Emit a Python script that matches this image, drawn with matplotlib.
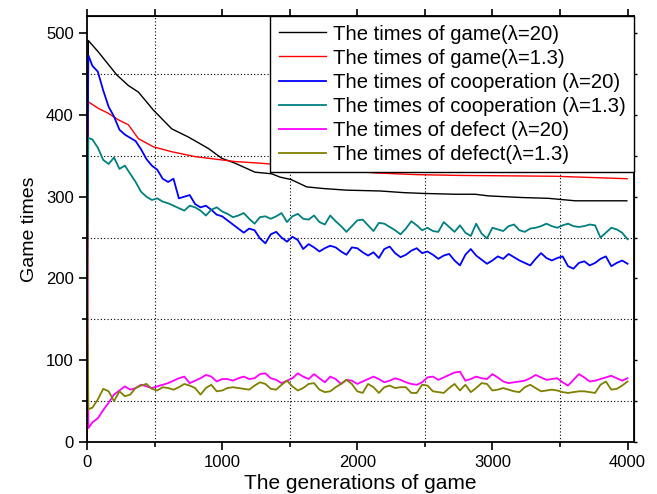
import numpy as np
import matplotlib
matplotlib.use("Agg")
import matplotlib.pyplot as plt
from matplotlib.ticker import MultipleLocator

plt.rcParams['font.family'] = ['Liberation Sans', 'DejaVu Sans']

# game times, lambda = 20
game20_gen = [0, 10, 84, 220, 306, 380, 491, 627, 750, 898, 997, 1095, 1243, 1367, 1428,
              1510, 1626, 1749, 1922, 2169, 2341, 2489, 2724, 2872, 2970, 3217, 3415, 3612, 3995]
game20_val = [0, 491, 477, 449, 436, 428, 406, 383, 373, 359, 347, 341, 330, 328, 324,
              321, 312, 310, 308, 307, 305, 304, 303, 303, 301, 299, 298, 295, 295]

# game times, lambda = 1.3
game13_gen = [0, 10, 84, 158, 232, 306, 380, 491, 627, 800, 948, 1095, 1281, 1500, 1800,
              2144, 2440, 2761, 3464, 3997]
game13_val = [0, 416, 408, 402, 394, 388, 371, 361, 355, 349, 346, 343, 341, 338, 333,
              329, 327, 326, 325, 322]

# the cooperation / defect counts are sampled on one generation grid
noisy_gen = [0, 10] + list(range(40, 4001, 40))

coop20_val = [260, 473,
              460, 453, 430, 410, 398, 382, 376, 372, 368, 358,
              346, 338, 333, 322, 318, 322, 298, 300, 302, 291,
              287, 289, 284, 278, 276, 271, 266, 261, 256, 261,
              259, 249, 243, 254, 257, 250, 245, 251, 247, 236,
              242, 238, 233, 237, 240, 238, 233, 229, 238, 237,
              232, 228, 232, 225, 236, 239, 231, 226, 229, 234,
              237, 231, 233, 229, 224, 228, 230, 222, 216, 229,
              236, 228, 223, 218, 222, 227, 224, 230, 226, 222,
              219, 216, 224, 231, 225, 222, 225, 227, 215, 212,
              219, 221, 216, 219, 224, 227, 215, 219, 222, 218]

coop13_val = [190, 372,
              370, 360, 345, 340, 348, 334, 338, 328, 318, 306,
              300, 296, 298, 294, 292, 289, 286, 283, 289, 287,
              283, 277, 284, 287, 282, 279, 275, 277, 280, 273,
              267, 275, 276, 273, 276, 280, 269, 276, 279, 273,
              272, 277, 269, 266, 277, 270, 264, 257, 264, 271,
              272, 265, 258, 268, 267, 263, 259, 254, 261, 270,
              265, 259, 262, 258, 257, 269, 263, 257, 265, 256,
              252, 267, 255, 249, 262, 260, 258, 264, 266, 259,
              257, 261, 262, 264, 267, 264, 262, 265, 267, 264,
              263, 264, 266, 265, 250, 256, 262, 260, 256, 248]

def20_val = [255, 17,
             24, 29, 39, 48, 58, 63, 68, 64, 66, 70,
             68, 66, 68, 70, 72, 75, 78, 80, 72, 75,
             78, 82, 80, 74, 77, 77, 75, 78, 80, 77,
             78, 83, 84, 78, 76, 72, 75, 78, 84, 80,
             77, 83, 78, 73, 80, 77, 71, 76, 75, 71,
             74, 77, 80, 77, 73, 75, 78, 76, 73, 71,
             70, 73, 79, 80, 76, 79, 82, 85, 86, 75,
             77, 80, 78, 77, 83, 79, 74, 72, 73, 74,
             75, 78, 82, 79, 76, 77, 78, 73, 69, 76,
             83, 79, 74, 75, 77, 79, 81, 78, 75, 78]

def13_val = [228, 40,
             42, 52, 65, 62, 50, 62, 56, 58, 66, 69,
             71, 65, 63, 67, 66, 64, 67, 71, 69, 66,
             58, 66, 70, 62, 63, 66, 67, 66, 65, 64,
             69, 73, 71, 65, 64, 70, 75, 68, 63, 66,
             71, 72, 64, 61, 62, 67, 71, 76, 71, 62,
             60, 71, 67, 60, 67, 69, 66, 67, 67, 60,
             60, 70, 69, 62, 61, 60, 66, 71, 63, 70,
             61, 66, 72, 71, 63, 64, 66, 64, 62, 61,
             67, 70, 66, 62, 63, 64, 63, 61, 60, 61,
             62, 62, 61, 60, 70, 74, 64, 65, 69, 74]

series = [
    (game20_gen, game20_val, '#000000', 1.0, 'The times of game(\u03bb=20)'),
    (game13_gen, game13_val, '#ff0000', 1.0, 'The times of game(\u03bb=1.3)'),
    (noisy_gen, coop20_val, '#0000ff', 1.3, 'The times of cooperation (\u03bb=20)'),
    (noisy_gen, coop13_val, '#008080', 1.3, 'The times of cooperation (\u03bb=1.3)'),
    (noisy_gen, def20_val, '#ff00ff', 1.3, 'The times of defect (\u03bb=20)'),
    (noisy_gen, def13_val, '#808000', 1.3, 'The times of defect(\u03bb=1.3)'),
]

fig = plt.figure(figsize=(6.57, 4.94), dpi=100)
ax = fig.add_axes([87 / 657, 1 - 442 / 494, (634 - 87) / 657, (442 - 16) / 494])

for gx, gy, c, lw, lab in series:
    ax.plot(gx, gy, color=c, lw=lw, label=lab)

ax.set_xlim(0, 4048)
ax.set_ylim(0, 521)
ax.xaxis.set_major_locator(MultipleLocator(1000))
ax.xaxis.set_minor_locator(MultipleLocator(500))
ax.yaxis.set_major_locator(MultipleLocator(100))
ax.yaxis.set_minor_locator(MultipleLocator(50))
ax.grid(which='minor', color='k', lw=0.8, linestyle=(0, (1, 2)))
ax.grid(which='major', visible=False)

for s in ax.spines.values():
    s.set_linewidth(1.3)
ax.tick_params(which='major', direction='out', length=6, width=1.2, labelsize=12)
ax.tick_params(which='minor', direction='out', length=3.5, width=1.2)

# extra ticks on the top and right frame
top = ax.secondary_xaxis('top')
top.xaxis.set_major_locator(MultipleLocator(1000))
top.xaxis.set_minor_locator(MultipleLocator(500))
top.tick_params(which='both', direction='out', length=5, width=1.2, labeltop=False)
right = ax.secondary_yaxis('right')
right.yaxis.set_major_locator(MultipleLocator(50))
right.yaxis.set_minor_locator(MultipleLocator(50))
right.tick_params(which='both', direction='out', length=2, width=1.0, labelright=False)

ax.set_xlabel('The generations of game', fontsize=15, labelpad=3)
ax.set_ylabel('Game times', fontsize=14, labelpad=6)

leg = ax.legend(loc='upper right', bbox_to_anchor=(1, 1), borderaxespad=0,
                fontsize=14.6, fancybox=False, framealpha=1, edgecolor='k',
                handlelength=2.3, handletextpad=0.35, labelspacing=0.25,
                borderpad=0.42)
leg.get_frame().set_linewidth(1.0)

fig.savefig('out.png', dpi=100)
